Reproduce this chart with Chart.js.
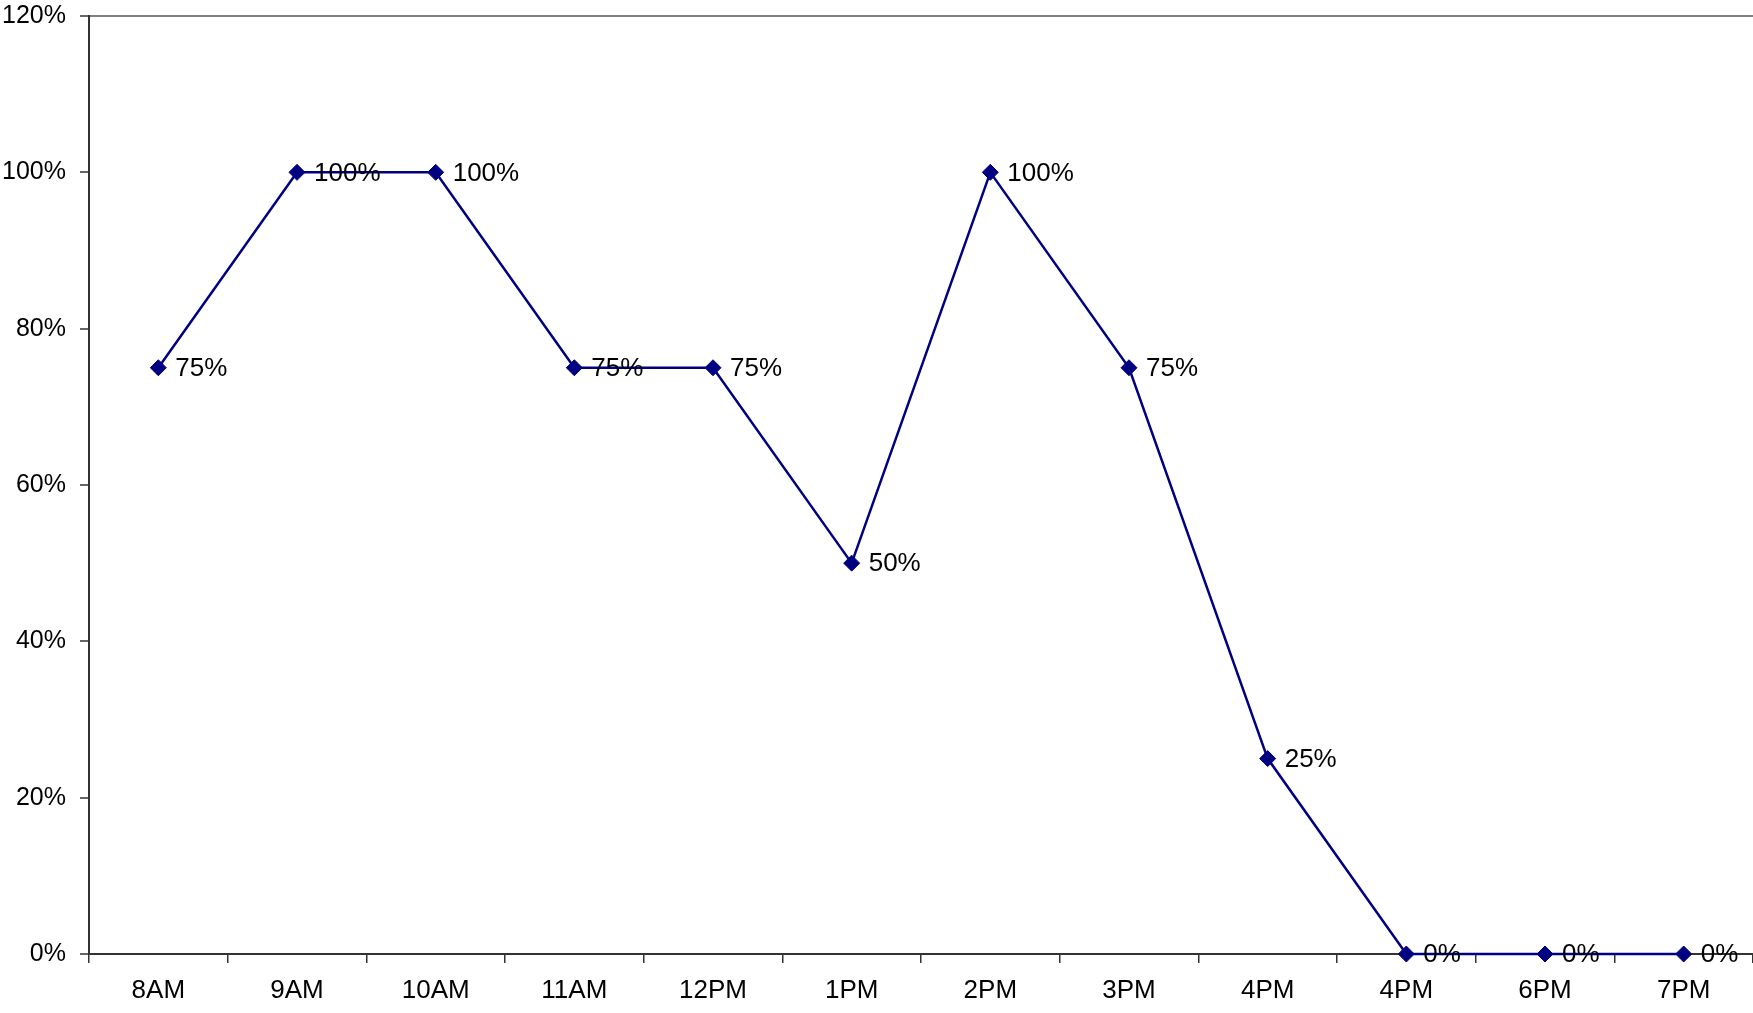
<!DOCTYPE html>
<html>
<head>
<meta charset="utf-8">
<script src="https://cdn.jsdelivr.net/npm/chart.js@4"></script>
<style>
html,body{margin:0;padding:0;background:#fff;overflow:hidden;}
#wrap{width:1753px;height:1013px;position:relative;}
</style>
</head>
<body>
<div id="wrap"><canvas id="c"></canvas></div>
<script>
const categories = ['8AM','9AM','10AM','11AM','12PM','1PM','2PM','3PM','4PM','4PM','6PM','7PM'];
const values = [75,100,100,75,75,50,100,75,25,0,0,0];
const yTicks = [0,20,40,60,80,100,120];

const FONT = "'Liberation Sans', Arial, sans-serif";

const dataLabels = {
  id: 'dataLabels',
  afterDatasetsDraw(chart) {
    const ctx = chart.ctx;
    const meta = chart.getDatasetMeta(0);
    ctx.save();
    ctx.font = '26px ' + FONT;
    ctx.fillStyle = '#000';
    ctx.textAlign = 'left';
    ctx.textBaseline = 'middle';
    meta.data.forEach((pt, i) => {
      ctx.fillText(values[i] + '%', pt.x + 17, pt.y + 1);
    });
    ctx.restore();
  }
};

new Chart(document.getElementById('c'), {
  type: 'line',
  data: {
    labels: categories,
    datasets: [{
      data: values,
      borderColor: '#000080',
      backgroundColor: '#000080',
      borderWidth: 2.5,
      pointStyle: 'rectRot',
      pointRadius: 8,
      pointHoverRadius: 8,
      pointBorderWidth: 1,
      pointBorderColor: '#000080',
      tension: 0,
      clip: false
    }]
  },
  options: {
    responsive: true,
    maintainAspectRatio: false,
    animation: false,
    devicePixelRatio: 1,
    layout: { autoPadding: false, padding: { top: 16, right: 0, left: 0, bottom: 0 } },
    plugins: { legend: { display: false }, tooltip: { enabled: false } },
    scales: {
      x: {
        type: 'category',
        offset: true,
        grid: {
          offset: true,
          drawOnChartArea: false,
          drawTicks: true,
          tickLength: 9,
          color: '#333',
          lineWidth: 1.5
        },
        border: { color: '#333', width: 2 },
        ticks: {
          color: '#000',
          font: { family: FONT, size: 26 },
          padding: 12,
          maxRotation: 0,
          autoSkip: false
        },
        afterFit(scale) {
          scale.height = 59;
          scale.paddingLeft = 0;
          scale.paddingRight = 0;
        }
      },
      y: {
        min: 0,
        max: 120,
        afterBuildTicks(scale) { scale.ticks = yTicks.map(v => ({ value: v })); },
        grid: {
          drawOnChartArea: true,
          drawTicks: true,
          tickLength: 9,
          color: (c) => (c.tick && c.tick.value === 120) ? '#808080' : 'rgba(0,0,0,0)',
          lineWidth: 2,
          tickColor: '#333',
          tickWidth: 1.5
        },
        border: { color: '#333', width: 2 },
        ticks: {
          color: '#000',
          font: { family: FONT, size: 25 },
          padding: 14,
          callback: (v) => v + '%'
        },
        afterFit(scale) {
          scale.width = 89;
          scale.paddingTop = 0;
          scale.paddingBottom = 0;
        }
      }
    }
  },
  plugins: [dataLabels]
});
</script>
</body>
</html>
